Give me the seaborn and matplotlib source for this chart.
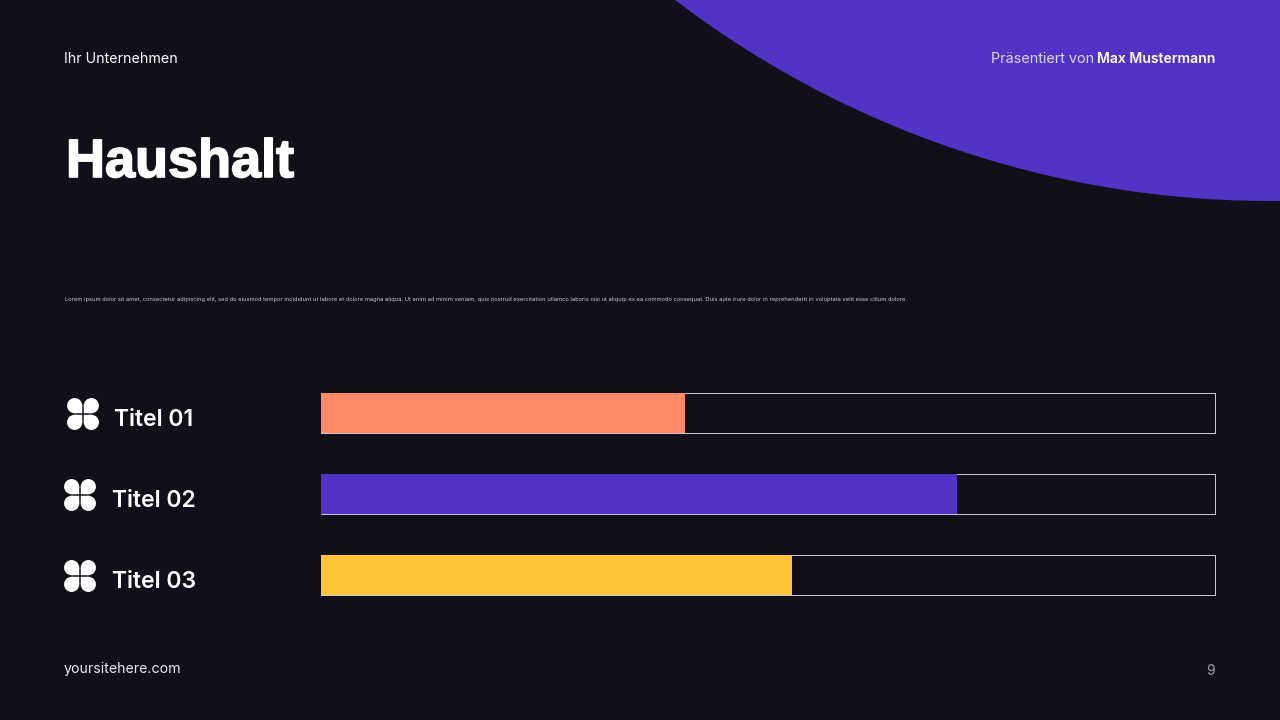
import matplotlib
matplotlib.use('Agg')
import matplotlib.pyplot as plt
import matplotlib.patheffects as pe
from matplotlib.patches import Circle, Rectangle
import pandas as pd
import seaborn as sns

# Chart data
titles = ['Titel 01', 'Titel 02', 'Titel 03']
values = [40.7, 71.1, 52.7]
track = [100, 100, 100]
bar_colors = ['#FF8A65', '#5233C6', '#FFC435']

lorem = ('Lorem ipsum dolor sit amet, consectetur adipiscing elit, sed do eiusmod tempor '
         'incididunt ut labore et dolore magna aliqua. Ut enim ad minim veniam, quis nostrud '
         'exercitation ullamco laboris nisi ut aliquip ex ea commodo consequat. Duis aute irure '
         'dolor in reprehenderit in voluptate velit esse cillum dolore.')

BG = '#100F1A'
W, H = 1280, 720


def px(size):
    # font size given in pixels, figure is 100 dpi
    return size * 72 / 100


sns.set_theme(style='white')
plt.rcParams['font.family'] = ['Inter', 'DejaVu Sans']

fig = plt.figure(figsize=(12.8, 7.2), dpi=100, facecolor=BG)

# Background layer in pixel coordinates
bg = fig.add_axes([0, 0, 1, 1])
bg.set_xlim(0, W)
bg.set_ylim(H, 0)
bg.axis('off')
bg.add_patch(Circle((1270, -780), 981, color='#5233C6', lw=0))
bg.add_patch(Rectangle((1270, 0), 10, 201, color='#5233C6', lw=0))


def clover(cx, cy):
    # four petal icon, 32 px wide
    gap = 0.75
    r = 7.6
    for sx in (-1, 1):
        for sy in (-1, 1):
            bg.add_patch(Circle((cx + sx * (gap + r), cy + sy * (gap + r)), r, color='white', lw=0))
            x0 = cx + gap if sx > 0 else cx - gap - r
            y0 = cy + gap if sy > 0 else cy - gap - r
            bg.add_patch(Rectangle((x0, y0), r, r, color='white', lw=0, snap=False))


clover(83, 414)
clover(80, 495)
clover(80, 576)

# Header, footer and title
bg.text(64, 59, 'Ihr Unternehmen', color='white', fontsize=px(14.25), va='center')
bg.text(1215, 59, 'Max Mustermann', color='white', fontsize=px(14), fontweight='semibold',
        va='center', ha='right')
bg.text(1094, 59, 'Präsentiert von', color='#DCD5F5', fontsize=px(14.4), va='center', ha='right')
bg.text(66, 163, 'Haushalt', color='white', fontsize=px(54), fontweight='bold', va='center',
        family=['Liberation Sans', 'DejaVu Sans'],
        path_effects=[pe.withStroke(linewidth=1.2, foreground='white')])
bg.text(65, 299, lorem, color='#C9C9CE', fontsize=px(5.79), va='center')
bg.text(64, 669, 'yoursitehere.com', color='#E8E8EC', fontsize=px(14.15), va='center')
bg.text(1215, 671, '9', color='#9A9AA2', fontsize=px(14), va='center', ha='right')

# Row titles
label_pos = [(114, 420), (112, 501), (112, 582)]
for (x, y), title in zip(label_pos, titles):
    bg.text(x, y, title, color='white', fontsize=px(23), fontweight='semibold', va='center')

# Bars, axes box runs 321-1215 px wide and 372-615 px high
ax = fig.add_axes([321 / W, 1 - 615 / H, 894 / W, 243 / H])
ax.patch.set_alpha(0)
df = pd.DataFrame({'title': titles, 'value': values, 'track': track})
sns.barplot(data=df, y='title', x='track', ax=ax, color=BG, edgecolor='#C8C8CC',
            linewidth=0.72, width=40 / 81, saturation=1, zorder=1)
sns.barplot(data=df, y='title', x='value', hue='title', palette=bar_colors, ax=ax,
            width=40 / 81, dodge=False, legend=False, linewidth=0, saturation=1, zorder=2)
for bar in ax.patches:
    bar.set_clip_on(False)
ax.set_xlim(0, 100)
ax.set_ylim(2.5, -0.5)
ax.axis('off')

fig.savefig('out.png', dpi=100, facecolor=BG)
